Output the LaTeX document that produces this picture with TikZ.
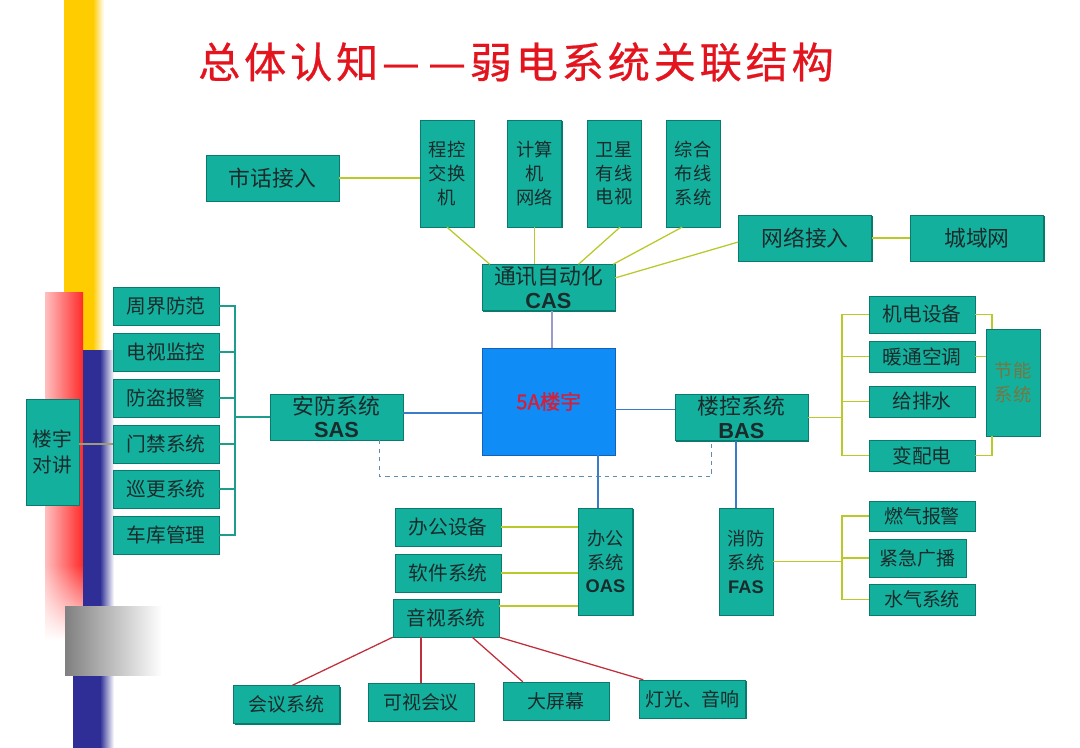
\documentclass[tikz,border=0pt]{standalone}
\usepackage{fontspec}
\setmainfont{Liberation Sans}
\newfontfamily\cjk{Noto Sans CJK SC}
\newfontfamily\cjkheavy[FakeBold=1.2]{Noto Sans CJK SC}
\newfontfamily\titlefont[LetterSpace=9,FakeBold=0.6]{Noto Sans CJK SC}
\newfontfamily\abbrfont{Liberation Sans}
\usetikzlibrary{shadows,fadings}
\definecolor{BoxTeal}{HTML}{14B09E}
\definecolor{BoxEdge}{HTML}{0A7A6E}
\definecolor{CoreBlue}{HTML}{0F8CF5}
\definecolor{CoreEdge}{HTML}{1462B8}
\definecolor{CoreText}{HTML}{D81E36}
\definecolor{TitleRed}{HTML}{E3141E}
\definecolor{TextDark}{HTML}{1A2B2B}
\definecolor{SaveText}{HTML}{767640}
\definecolor{LineYG}{HTML}{B9C92A}
\definecolor{LineBlue}{HTML}{3A7CC8}
\definecolor{LineLav}{HTML}{9C9CCC}
\definecolor{LineDash}{HTML}{5E8DB0}
\definecolor{LineTeal}{HTML}{1E9C8C}
\definecolor{LineOlive}{HTML}{9C9C78}
\definecolor{LineRed}{HTML}{C0303C}
\definecolor{BarYellow}{HTML}{FFCC00}
\definecolor{BarRed}{HTML}{FF2A2A}
\definecolor{BarNavy}{HTML}{2E2E96}
\tikzfading[name=fade down, top color=transparent!0, bottom color=transparent!100]
\newcommand{\sysabbr}[1]{{\abbrfont\bfseries #1}}

\begin{document}
\begin{tikzpicture}[x=0.025cm,y=-0.025cm,
  box/.style={fill=BoxTeal,draw=BoxEdge,line width=0.3pt,drop shadow={shadow xshift=0.9pt,shadow yshift=-0.9pt,fill=BoxEdge,opacity=1},inner sep=0pt,align=center,text=TextDark,font=\cjk\fontsize{14}{16}\selectfont,minimum width=2.65cm,minimum height=0.95cm},
  wide/.style={box,minimum width=3.325cm,minimum height=1.15cm,font=\cjk\fontsize{15.5}{16.5}\selectfont},
  tall/.style={box,minimum width=1.35cm,minimum height=2.675cm,font=\cjk\fontsize{13}{17}\selectfont},
  leaf/.style={box,font=\cjk\fontsize{13.5}{16}\selectfont},
  core/.style={fill=CoreBlue,draw=CoreEdge,line width=0.6pt,minimum width=3.325cm,minimum height=2.675cm,inner sep=0pt,text=CoreText,font=\cjkheavy\fontsize{14.5}{16}\selectfont},
  link/.style={LineYG,line width=0.9pt},
  bluelink/.style={LineBlue,line width=0.9pt},
  lavlink/.style={LineLav,line width=0.9pt},
  dashlink/.style={LineDash,line width=0.7pt,dashed},
  teallink/.style={LineTeal,line width=0.9pt},
  olivelink/.style={LineOlive,line width=0.9pt},
  redlink/.style={LineRed,line width=0.9pt}]
  \useasboundingbox (0,0) rectangle (1080,748);
  \fill[white] (0,0) rectangle (1080,748);

  % side bars
  \fill[BarYellow] (64,0) rectangle (93,350);
  \shade[left color=BarYellow,right color=white] (93,0) rectangle (104,350);
  \shade[left color=BarRed!30,right color=BarRed] (45,293) rectangle (83,565);
  \shade[left color=BarRed!30,right color=BarRed,path fading=fade down] (45,565) rectangle (83,640);
  \fill[BarNavy] (83,350) rectangle (100,748);
  \fill[BarNavy] (73,675) rectangle (83,748);
  \shade[left color=BarNavy,right color=white] (100,350) rectangle (114,748);
  \shade[left color=black!50,right color=white] (65,606) rectangle (162,675);

  \node[text=TitleRed,font=\titlefont\fontsize{30}{32}\selectfont] (title) at (516,62) {总体认知—\kern6pt—弱电系统关联结构};

  % CAS
  \node[wide] (shihua) at (272.5,178) {市话接入};
  \node[tall] (chengkong) at (447,173.5) {程控\\交换\\机};
  \node[tall] (jisuanji) at (534.5,173.5) {计算\\机\\网络};
  \node[tall] (weixing) at (614,173.5) {卫星\\有线\\电视};
  \node[tall] (zonghe) at (693,173.5) {综合\\布线\\系统};
  \node[wide] (wangluo) at (805,238) {网络接入};
  \node[wide] (chengyu) at (977,238) {城域网};
  \node[wide] (cas) at (548.5,287.5) {通讯自动化\\\sysabbr{CAS}};
  \node[core] (fivea) at (548.5,401.5) {5A楼宇};

  % SAS
  \node[wide] (sas) at (336.5,417) {安防系统\\\sysabbr{SAS}};
  \node[box] (zhoujie) at (166,306) {周界防范};
  \node[box] (dianshi) at (166,352) {电视监控};
  \node[box] (fangdao) at (166,398) {防盗报警};
  \node[box] (menjin) at (166,444) {门禁系统};
  \node[box] (xungeng) at (166,489) {巡更系统};
  \node[box] (cheku) at (166,535) {车库管理};
  \node[tall,minimum width=1.325cm,minimum height=2.65cm,font=\cjk\fontsize{14}{18}\selectfont] (louyu) at (52.5,452) {楼宇\\对讲};

  % BAS
  \node[wide] (bas) at (741.5,417.5) {楼控系统\\\sysabbr{BAS}};
  \node[box,minimum height=0.925cm] (jidian) at (922,314.5) {机电设备};
  \node[box,minimum height=0.775cm] (nuantong) at (922,356.5) {暖通空调};
  \node[box,minimum height=0.775cm] (geipai) at (922,401.5) {给排水};
  \node[box,minimum height=0.775cm] (biandian) at (922,455.5) {变配电};
  \node[tall,text=SaveText] (jieneng) at (1013,382.5) {节能\\系统};

  % FAS
  \node[tall] (fas) at (746,561.5) {消防\\系统\\\sysabbr{FAS}};
  \node[leaf,minimum height=0.75cm] (ranqi) at (922,516) {燃气报警};
  \node[leaf,minimum width=2.425cm] (jinji) at (917.5,558) {紧急广播};
  \node[leaf,minimum height=0.775cm] (shuiqi) at (922,599.5) {水气系统};

  % OAS
  \node[tall] (oas) at (605.5,561.5) {办公\\系统\\\sysabbr{OAS}};
  \node[box] (bangong) at (448,527) {办公设备};
  \node[box] (ruanjian) at (448,573) {软件系统};
  \node[box] (yinshi) at (446,618) {音视系统};
  \node[leaf] (huiyi) at (286.5,704.5) {会议系统};
  \node[leaf] (keshi) at (421,702) {可视会议};
  \node[leaf] (dapingmu) at (556,701) {大屏幕};
  \node[leaf] (dengguang) at (692.5,699) {灯光、音响};

  % connectors
  \draw[link] (shihua.east) -- (shihua.east -| chengkong.west);
  \draw[link] (chengkong.south) -- ([xshift=0.2cm]cas.north west);
  \draw[link] (jisuanji.south) -- (jisuanji.south |- cas.north);
  \draw[link] ([xshift=0.15cm]weixing.south) -- ([xshift=0.75cm]cas.north);
  \draw[link] ([xshift=-0.275cm]zonghe.south) -- ([xshift=-0.05cm]cas.north east);
  \draw[link] ([yshift=-0.1cm]wangluo.west) -- ([yshift=0.24cm]cas.east);
  \draw[link] (wangluo.east) -- (chengyu.west);
  \draw[lavlink] ([xshift=0.09cm]cas.south) -- ([xshift=0.09cm]fivea.north);

  \coordinate (sasbus) at (235,417);
  \foreach \n in {zhoujie,dianshi,fangdao,menjin,xungeng,cheku}
    \draw[teallink] (\n.east) -| (sasbus);
  \draw[teallink] (sasbus) -- (sas.west);
  \draw[olivelink] (menjin.west) -- (menjin.west -| louyu.east);
  \draw[bluelink] ([yshift=0.1cm]sas.east) -- ([yshift=0.1cm]sas.east -| fivea.west);
  \draw[bluelink] ([yshift=0.2cm]bas.west) -- ([yshift=0.2cm]bas.west -| fivea.east);
  \draw[dashlink] ([xshift=-0.6cm]sas.south east) -- ++(0,36) -| ([xshift=0.925cm]bas.south west);
  \draw[bluelink] ([xshift=-0.19cm]oas.north) -- ([xshift=-0.19cm]oas.north |- fivea.south);
  \draw[bluelink] ([xshift=-0.25cm]fas.north) -- ([xshift=-0.25cm]fas.north |- bas.south);

  \coordinate (basbus) at (842,417.5);
  \draw[link] (bas.east) -- (basbus);
  \foreach \n in {jidian,nuantong,geipai,biandian}
    \draw[link] (\n.west) -| (basbus);
  \draw[link] (jidian.east) -| ([xshift=-0.525cm]jieneng.north);
  \draw[link] (nuantong.east) -- (nuantong.east -| jieneng.west);
  \draw[link] (biandian.east) -| ([xshift=-0.525cm]jieneng.south);

  \coordinate (fasbus) at (842,561.5);
  \draw[link] (fas.east) -- (fasbus);
  \foreach \n in {ranqi,jinji,shuiqi}
    \draw[link] (\n.west) -| (fasbus);

  \draw[link] (bangong.east) -- (bangong.east -| oas.west);
  \draw[link] (ruanjian.east) -- (ruanjian.east -| oas.west);
  \draw[link] ([yshift=0.3cm]yinshi.east) -- ([yshift=0.3cm]yinshi.east -| oas.west);

  \draw[redlink] (yinshi.south west) -- ([xshift=0.15cm]huiyi.north);
  \draw[redlink] (keshi.north) -- (keshi.north |- yinshi.south);
  \draw[redlink] ([xshift=-0.675cm]yinshi.south east) -- ([xshift=0.5cm]dapingmu.north west);
  \draw[redlink] (yinshi.south east) -- ([xshift=0.1cm]dengguang.north west);
\end{tikzpicture}
\end{document}
